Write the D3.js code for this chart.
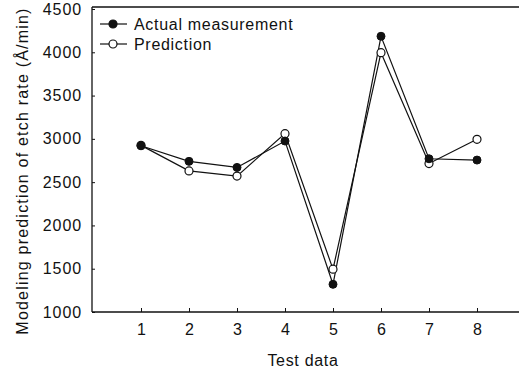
<!DOCTYPE html>
<html><head><meta charset="utf-8">
<script src="https://cdn.jsdelivr.net/npm/d3@7"></script>
<style>body{margin:0;background:#fff}text{font-family:"Liberation Sans",Arial,sans-serif;fill:#111}</style>
</head><body>
<svg id="c" width="519" height="371"></svg>
<script>
const categories = [1, 2, 3, 4, 5, 6, 7, 8];
const actual = [2920, 2740, 2670, 2975, 1320, 4185, 2770, 2755];
const prediction = [2925, 2630, 2570, 3060, 1495, 3995, 2715, 2995];
const yTicks = [1000, 1500, 2000, 2500, 3000, 3500, 4000, 4500];
const seriesNames = ["Actual measurement", "Prediction"];

const svg = d3.select("#c");
const x = d3.scaleLinear().domain([0, 9]).range([93, 525]);
const y = d3.scaleLinear().domain([1000, 4500]).range([312, 9]);
const L = 92, B = 312, T = 7, R = 519;

// frame
svg.append("line").attr("x1", L).attr("x2", L).attr("y1", T).attr("y2", B).attr("stroke", "#111").attr("stroke-width", 1.3);
svg.append("line").attr("x1", L).attr("x2", R).attr("y1", T).attr("y2", T).attr("stroke", "#111").attr("stroke-width", 1.3);

// y axis
const ya = svg.append("g").attr("transform", `translate(${L},0)`)
  .call(d3.axisLeft(y).tickValues(yTicks).tickSize(-3).tickPadding(10).tickFormat(d3.format("d")));
ya.select(".domain").remove();
ya.selectAll("line").attr("stroke", "#111");
ya.selectAll("text").attr("font-size", 16).attr("letter-spacing", 0.9).attr("fill", "#111");

// x axis
const xa = svg.append("g").attr("transform", `translate(0,${B})`)
  .call(d3.axisBottom(x).tickValues(categories).tickSize(-4).tickPadding(12).tickFormat(d3.format("d")));
xa.select(".domain").remove();
xa.selectAll("line").attr("stroke", "#111");
xa.selectAll("text").attr("font-size", 16).attr("fill", "#111");
svg.append("line").attr("x1", L).attr("x2", R).attr("y1", B).attr("y2", B).attr("stroke", "#111").attr("stroke-width", 1.3);

// titles
svg.append("text").attr("x", 303).attr("y", 366).attr("text-anchor", "middle")
  .attr("font-size", 16).attr("letter-spacing", 0.7).text("Test data");
svg.append("text").attr("transform", "translate(28,171) rotate(-90)").attr("text-anchor", "middle")
  .attr("font-size", 16).attr("letter-spacing", 1.2).text("Modeling prediction of etch rate (Å/min)");

// lines
const line = d3.line().x((d, i) => x(categories[i])).y(d => y(d));
[actual, prediction].forEach(s => {
  svg.append("path").datum(s).attr("d", line).attr("fill", "none").attr("stroke", "#111").attr("stroke-width", 1.2);
});
svg.selectAll("circle.a").data(prediction).join("circle").attr("class", "a")
  .attr("cx", (d, i) => x(categories[i])).attr("cy", d => y(d)).attr("r", 4)
  .attr("fill", "#fff").attr("stroke", "#111").attr("stroke-width", 1.2);
svg.selectAll("circle.b").data(actual).join("circle").attr("class", "b")
  .attr("cx", (d, i) => x(categories[i])).attr("cy", d => y(d)).attr("r", 4)
  .attr("fill", "#111").attr("stroke", "#111");

// legend
seriesNames.forEach((n, i) => {
  const yy = 24 + i * 20;
  svg.append("line").attr("x1", 100).attr("x2", 127).attr("y1", yy).attr("y2", yy).attr("stroke", "#111").attr("stroke-width", 1.2);
  svg.append("circle").attr("cx", 113).attr("cy", yy).attr("r", 4)
    .attr("fill", i === 0 ? "#111" : "#fff").attr("stroke", "#111").attr("stroke-width", 1.2);
  svg.append("text").attr("x", 134).attr("y", yy + 6).attr("font-size", 16).attr("letter-spacing", 0.7).text(n);
});
</script>
</body></html>
